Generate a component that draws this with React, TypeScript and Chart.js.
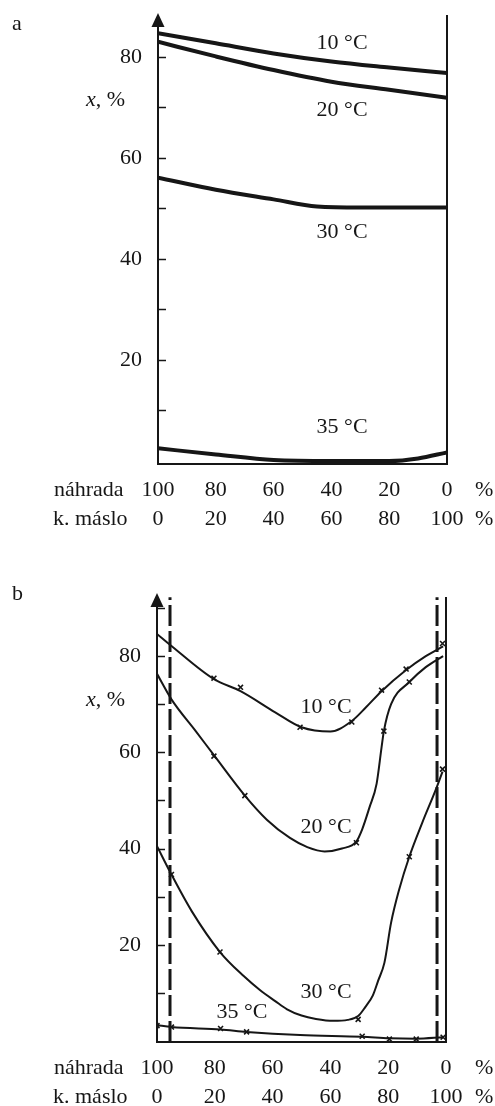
import React, { useEffect, useRef } from 'react';
import { Chart, registerables } from 'chart.js';

Chart.register(...registerables);

const FONT = "'Liberation Serif', 'Times New Roman', Times, serif";
const INK = '#161616';

// Axis ticks
const xTickValues = [0, 20, 40, 60, 80, 100];
const nahradaLabels = ['100', '80', '60', '40', '20', '0'];
const masloLabels = ['0', '20', '40', '60', '80', '100'];
const yTickValues = [10, 20, 30, 40, 50, 60, 70, 80, 90];
const yLabelled = [20, 40, 60, 80];

// Panel a (x = k. máslo %)
const a10X = [0, 20, 40, 60, 80, 100];
const a10 = [84.7, 82.7, 80.7, 79.1, 77.9, 76.8];
const a20X = [0, 20, 40, 60, 80, 100];
const a20 = [83.0, 80.1, 77.4, 75.1, 73.5, 71.9];
const a30X = [0, 20, 40, 55, 70, 85, 100];
const a30 = [56.1, 53.7, 51.8, 50.4, 50.2, 50.2, 50.2];
const a35X = [0, 20, 40, 60, 80, 90, 100];
const a35 = [2.5, 1.3, 0.2, 0, 0, 0.5, 1.7];

// Panel b curves
const b10X = [0, 5, 19.7, 28.9, 40.9, 50, 60, 67.4, 72.4, 77.7, 86.2, 93, 99];
const b10 = [84.6, 82.1, 75.2, 72.7, 68.3, 65.2, 64.3, 66.5, 69.4, 72.7, 77.1, 80.0, 82.0];
const b20X = [0, 5, 13.4, 19.7, 30.4, 38, 46, 52, 58, 64, 69, 71, 73.5, 76, 77.7, 78.5, 81, 87.3, 93, 99];
const b20 = [76.3, 71.0, 64.4, 59.4, 51.0, 46.0, 42.2, 40.3, 39.4, 40.0, 41.5, 44.0, 48.5, 53.5, 61.0, 64.4, 70.0, 74.6, 77.7, 80.0];
const b30X = [0, 5, 12, 21.8, 30, 35.6, 40.9, 45, 50, 55, 61, 66, 69.6, 72, 74.7, 76.5, 78.7, 81, 83.8, 87.3, 91.8, 96.5, 98.8];
const b30 = [40.5, 34.6, 27.0, 18.5, 13.5, 10.6, 8.3, 6.6, 5.3, 4.6, 4.2, 4.4, 5.2, 7.0, 9.5, 12.5, 16.3, 24.6, 31.5, 38.3, 45.4, 52.3, 56.0];
const b35X = [0, 5, 22, 31, 49.5, 71, 80.4, 89.7, 99];
const b35 = [3.3, 2.9, 2.4, 1.9, 1.25, 0.9, 0.6, 0.5, 0.8];

// Panel b measured points (×)
const m10X = [19.7, 28.9, 49.5, 67.4, 77.7, 86.2, 98.8];
const m10 = [75.4, 73.5, 65.2, 66.3, 72.9, 77.3, 82.6];
const m20X = [19.7, 30.4, 69, 78.5, 87.3];
const m20 = [59.2, 51.0, 41.2, 64.4, 74.6];
const m30X = [5, 21.8, 69.6, 87.3, 98.8];
const m30 = [34.6, 18.5, 4.5, 38.3, 56.5];
const m35X = [0, 5, 22, 31, 71, 80.4, 89.7, 99];
const m35 = [3.2, 2.9, 2.6, 1.9, 1.0, 0.4, 0.4, 0.8];

// Panel b dashed limits
const bDashX = [4.5, 96.9];
const bDashY = [-0.2, 92.2];

// Curve labels
const curveNames = ['10 °C', '20 °C', '30 °C', '35 °C'];
const aLabelX = [63.7, 63.7, 63.7, 63.7];
const aLabelY = [82.8, 69.5, 45.3, 6.7];
const bLabelX = [58.5, 58.5, 58.5, 29.4];
const bLabelY = [69.4, 44.5, 10.2, 6.0];

const pts = (xs: number[], ys: number[]) => xs.map((x, i) => ({ x, y: ys[i] }));

type PanelCfg = {
  top: number;
  height: number;
  yWidth: number;
  padRight: number;
  padTop: number;
  chartBottom: number;
  yMin: number;
  yMax: number;
  letter: string;
  letterBaseline: number;
  titleY: number;
  rightTop: number;
  labelX: number[];
  labelY: number[];
  datasets: any[];
};

const LABEL_PAD = 12;
const LINE_H = 29;

function decorPlugin(p: PanelCfg) {
  return {
    id: 'decor',
    afterDraw(chart: any) {
      const ctx = chart.ctx;
      const { left, right, top, bottom } = chart.chartArea;
      const xs = chart.scales.x;
      const ys = chart.scales.y;
      ctx.save();
      ctx.strokeStyle = INK;
      ctx.fillStyle = INK;
      ctx.lineWidth = 2;
      // left axis with arrow
      ctx.beginPath();
      ctx.moveTo(left, top + 10);
      ctx.lineTo(left, bottom + 1);
      ctx.stroke();
      ctx.beginPath();
      ctx.moveTo(left, top);
      ctx.lineTo(left - 6.5, top + 14);
      ctx.lineTo(left + 6.5, top + 14);
      ctx.closePath();
      ctx.fill();
      // right frame
      ctx.beginPath();
      ctx.moveTo(right, p.rightTop);
      ctx.lineTo(right, bottom + 1);
      ctx.stroke();
      // bottom frame
      ctx.beginPath();
      ctx.moveTo(left - 1, bottom);
      ctx.lineTo(right + 1, bottom);
      ctx.stroke();
      // inward y ticks
      ctx.lineWidth = 1.5;
      yTickValues.forEach((v) => {
        if (v > ys.max) return;
        const py = Math.round(ys.getPixelForValue(v)) + 0.5;
        ctx.beginPath();
        ctx.moveTo(left, py);
        ctx.lineTo(left + 8, py);
        ctx.stroke();
      });
      // curve labels
      ctx.font = `22px ${FONT}`;
      ctx.textBaseline = 'middle';
      ctx.textAlign = 'center';
      curveNames.forEach((t, i) => {
        ctx.fillText(t, xs.getPixelForValue(p.labelX[i]), ys.getPixelForValue(p.labelY[i]));
      });
      // axis title
      ctx.textAlign = 'left';
      ctx.font = `italic 22px ${FONT}`;
      ctx.fillText('x', 86, p.titleY);
      const w = ctx.measureText('x').width;
      ctx.font = `22px ${FONT}`;
      ctx.fillText(', %', 86 + w, p.titleY);
      // row labels
      const r1 = bottom + LABEL_PAD + LINE_H / 2;
      const r2 = r1 + LINE_H;
      ctx.fillText('náhrada', 54, r1);
      ctx.fillText('k. máslo', 53, r2);
      ctx.fillText('%', 475, r1);
      ctx.fillText('%', 475, r2);
      // panel letter
      ctx.textBaseline = 'alphabetic';
      ctx.fillText(p.letter, 12, p.letterBaseline);
      ctx.restore();
    },
  };
}

function Panel({ cfg }: { cfg: PanelCfg }) {
  const ref = useRef<HTMLCanvasElement | null>(null);
  useEffect(() => {
    if (!ref.current) return;
    const chart = new Chart(ref.current, {
      type: 'line',
      data: { datasets: cfg.datasets },
      options: {
        animation: false,
        responsive: false,
        devicePixelRatio: 1,
        events: [],
        layout: { padding: { left: 0, right: cfg.padRight, top: cfg.padTop, bottom: 0 } },
        plugins: { legend: { display: false }, tooltip: { enabled: false } },
        scales: {
          x: {
            type: 'linear',
            min: 0,
            max: 100,
            grid: { display: false, drawTicks: false },
            border: { display: false },
            afterBuildTicks: (s: any) => {
              s.ticks = xTickValues.map((v) => ({ value: v }));
            },
            afterFit: (s: any) => {
              s.height = cfg.height - cfg.chartBottom;
              s.paddingLeft = 0;
              s.paddingRight = 0;
            },
            ticks: {
              autoSkip: false,
              maxRotation: 0,
              padding: LABEL_PAD,
              color: INK,
              font: { family: FONT, size: 22, lineHeight: LINE_H / 22 },
              callback: (_v: any, i: number) => [nahradaLabels[i], masloLabels[i]],
            },
          },
          y: {
            type: 'linear',
            min: cfg.yMin,
            max: cfg.yMax,
            grid: { display: false, drawTicks: false },
            border: { display: false },
            afterBuildTicks: (s: any) => {
              s.ticks = yTickValues.filter((v) => v <= cfg.yMax).map((v) => ({ value: v }));
            },
            afterFit: (s: any) => {
              s.width = cfg.yWidth;
              s.paddingTop = 0;
              s.paddingBottom = 0;
            },
            ticks: {
              autoSkip: false,
              padding: 16,
              color: INK,
              font: { family: FONT, size: 22 },
              callback: (v: any) => (yLabelled.includes(Number(v)) ? String(v) : ''),
            },
          },
        },
      },
      plugins: [decorPlugin(cfg)],
    } as any);
    return () => chart.destroy();
  }, [cfg]);
  return (
    <canvas
      ref={ref}
      width={495}
      height={cfg.height}
      style={{ position: 'absolute', left: 0, top: cfg.top, width: 495, height: cfg.height, display: 'block' }}
    />
  );
}

const curve = (xs: number[], ys: number[], w: number) => ({
  type: 'line',
  data: pts(xs, ys),
  borderColor: INK,
  borderWidth: w,
  pointRadius: 0,
  fill: false,
  cubicInterpolationMode: 'monotone',
  borderCapStyle: 'butt',
});

const marks = (xs: number[], ys: number[]) => ({
  type: 'scatter',
  data: pts(xs, ys),
  showLine: false,
  pointStyle: 'crossRot',
  pointRadius: 3.5,
  pointBorderWidth: 1.6,
  pointBorderColor: INK,
  borderColor: INK,
});

const dashLine = (x: number) => ({
  type: 'line',
  data: [
    { x, y: bDashY[0] },
    { x, y: bDashY[1] },
  ],
  borderColor: INK,
  borderWidth: 3,
  borderDash: [21, 5],
  pointRadius: 0,
  tension: 0,
  fill: false,
});

const panelA: PanelCfg = {
  top: 0,
  height: 560,
  yWidth: 158,
  padRight: 48,
  padTop: 13,
  chartBottom: 464,
  yMin: -0.6,
  yMax: 88.7,
  letter: 'a',
  letterBaseline: 30,
  titleY: 100,
  rightTop: 15,
  labelX: aLabelX,
  labelY: aLabelY,
  datasets: [curve(a10X, a10, 4), curve(a20X, a20, 4), curve(a30X, a30, 4), curve(a35X, a35, 4)],
};

const panelB: PanelCfg = {
  top: 560,
  height: 546,
  yWidth: 157,
  padRight: 49,
  padTop: 33,
  chartBottom: 482,
  yMin: -0.2,
  yMax: 93.1,
  letter: 'b',
  letterBaseline: 40,
  titleY: 140,
  rightTop: 37,
  labelX: bLabelX,
  labelY: bLabelY,
  datasets: [
    dashLine(bDashX[0]),
    dashLine(bDashX[1]),
    curve(b10X, b10, 2),
    curve(b20X, b20, 2),
    curve(b30X, b30, 2),
    curve(b35X, b35, 2),
    marks(m10X, m10),
    marks(m20X, m20),
    marks(m30X, m30),
    marks(m35X, m35),
  ],
};

export default function App() {
  return (
    <div style={{ position: 'absolute', left: 0, top: 0, width: 495, height: 1106, background: '#fff' }}>
      <Panel cfg={panelA} />
      <Panel cfg={panelB} />
    </div>
  );
}
